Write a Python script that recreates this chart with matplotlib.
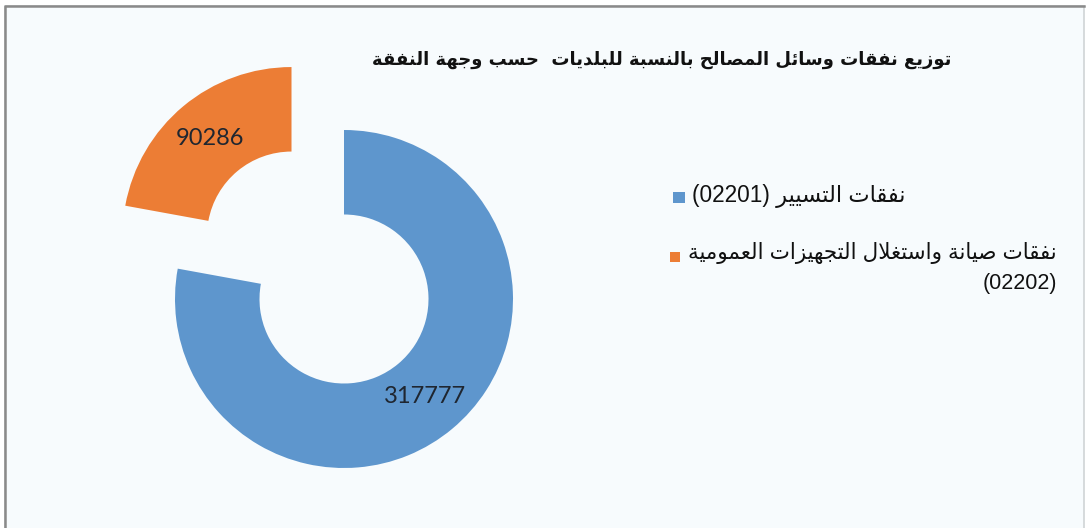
import matplotlib
matplotlib.use('Agg')
import matplotlib.pyplot as plt
from matplotlib.patches import Rectangle

#%% data
title = 'توزيع نفقات وسائل المصالح بالنسبة للبلديات  حسب وجهة النفقة'
labels = ['نفقات التسيير (02201)',
          'نفقات صيانة واستغلال التجهيزات العمومية\n(02202)']
values = [317777, 90286]
colors = ['#5e96cd', '#ec7d35']
explode = [0, 0.485]

#%% simple arabic shaping (matplotlib has no shaping/bidi)
forms = {
    'ا': ('\uFE8D', '\uFE8E', None, None),
    'ب': ('\uFE8F', '\uFE90', '\uFE91', '\uFE92'),
    'ة': ('\uFE93', '\uFE94', None, None),
    'ت': ('\uFE95', '\uFE96', '\uFE97', '\uFE98'),
    'ج': ('\uFE9D', '\uFE9E', '\uFE9F', '\uFEA0'),
    'ح': ('\uFEA1', '\uFEA2', '\uFEA3', '\uFEA4'),
    'د': ('\uFEA9', '\uFEAA', None, None),
    'ر': ('\uFEAD', '\uFEAE', None, None),
    'ز': ('\uFEAF', '\uFEB0', None, None),
    'س': ('\uFEB1', '\uFEB2', '\uFEB3', '\uFEB4'),
    'ص': ('\uFEB9', '\uFEBA', '\uFEBB', '\uFEBC'),
    'ع': ('\uFEC9', '\uFECA', '\uFECB', '\uFECC'),
    'غ': ('\uFECD', '\uFECE', '\uFECF', '\uFED0'),
    'ف': ('\uFED1', '\uFED2', '\uFED3', '\uFED4'),
    'ق': ('\uFED5', '\uFED6', '\uFED7', '\uFED8'),
    'ل': ('\uFEDD', '\uFEDE', '\uFEDF', '\uFEE0'),
    'م': ('\uFEE1', '\uFEE2', '\uFEE3', '\uFEE4'),
    'ن': ('\uFEE5', '\uFEE6', '\uFEE7', '\uFEE8'),
    'ه': ('\uFEE9', '\uFEEA', '\uFEEB', '\uFEEC'),
    'و': ('\uFEED', '\uFEEE', None, None),
    'ي': ('\uFEF1', '\uFEF2', '\uFEF3', '\uFEF4'),
    'ئ': ('\uFE89', '\uFE8A', '\uFE8B', '\uFE8C'),
}

def shape_word(w):
    out = []
    i = 0
    while i < len(w):
        c = w[i]
        if c not in forms:
            out.append(c)
            i += 1
            continue
        prev = w[i-1] if i > 0 else None
        joins_prev = prev in forms and forms[prev][2] is not None
        if c == 'ل' and i+1 < len(w) and w[i+1] == 'ا':
            out.append('\uFEFC' if joins_prev else '\uFEFB')
            i += 2
            continue
        nxt = w[i+1] if i+1 < len(w) else None
        joins_next = nxt in forms and forms[c][2] is not None
        iso, fin, ini, med = forms[c]
        if joins_prev and joins_next:
            out.append(med)
        elif joins_prev:
            out.append(fin)
        elif joins_next:
            out.append(ini)
        else:
            out.append(iso)
        i += 1
    return ''.join(out)

def rtl(text):
    lines = []
    for line in text.split('\n'):
        toks = line.split(' ')
        vis = []
        for t in toks:
            if any(ch in forms for ch in t):
                vis.append(shape_word(t)[::-1])
            else:
                vis.append(t)
        lines.append(' '.join(vis[::-1]))
    return '\n'.join(lines)

#%% figure
W, H = 1087, 528
fig = plt.figure(figsize=(W/100, H/100), dpi=100)
fig.patch.set_facecolor('white')

def fx(x):
    return x / W
def fy(y):
    return 1 - y / H

# chart area background + border (right edge lighter)
fig.patches.append(Rectangle((fx(5), fy(540)), fx(1084) - fx(5), fy(6) - fy(540),
                             transform=fig.transFigure, facecolor='#f7fbfd',
                             edgecolor='#d0d4d6', linewidth=1.2, zorder=-5))
fig.add_artist(plt.Line2D([fx(5), fx(5), fx(1084)], [0, fy(6), fy(6)],
                          transform=fig.transFigure, color='#8a8a8a', linewidth=1.8, zorder=-4))

ax = fig.add_axes([0, 0, 1, 1])
ax.set_facecolor('none')
ax.set_zorder(1)
total = sum(values)
wedges, texts, autotexts = ax.pie(values, colors=colors, explode=explode,
                                  startangle=90, counterclock=False, radius=1,
                                  wedgeprops=dict(width=0.5, linewidth=0),
                                  autopct=lambda p: '%d' % round(p * total / 100),
                                  pctdistance=0.75,
                                  textprops=dict(fontsize=17, color='#1f2630', family='Lato'))
# center of donut at (344, 299) px, radius 169 px
cx, cy, r = 344, 299, 169
ax.set_xlim(-cx / r, (W - cx) / r)
ax.set_ylim(-(H - cy) / r, cy / r)
ax.set_aspect('auto')
ax.axis('off')

# title
fig.text(fx(662), fy(60), rtl(title), ha='center', va='center',
         fontsize=13, fontweight='bold', family='DejaVu Sans', color='#111111')

# legend
leg_font = ['Liberation Sans', 'DejaVu Sans']
fig.patches.append(Rectangle((fx(673), fy(203)), 12/W, 11/H, transform=fig.transFigure,
                             facecolor=colors[0], edgecolor='none', zorder=2))
fig.text(fx(906), fy(196), rtl(labels[0]), ha='right', va='center',
         fontsize=16.3, family=leg_font, color='#111111')
fig.patches.append(Rectangle((fx(670), fy(262)), 10/W, 10/H, transform=fig.transFigure,
                             facecolor=colors[1], edgecolor='none', zorder=2))
fig.text(fx(1057), fy(268), rtl(labels[1]), ha='right', va='center', multialignment='right',
         fontsize=15.5, family=leg_font, color='#111111', linespacing=1.5)

plt.savefig('out.png', dpi=100, facecolor=fig.get_facecolor())
